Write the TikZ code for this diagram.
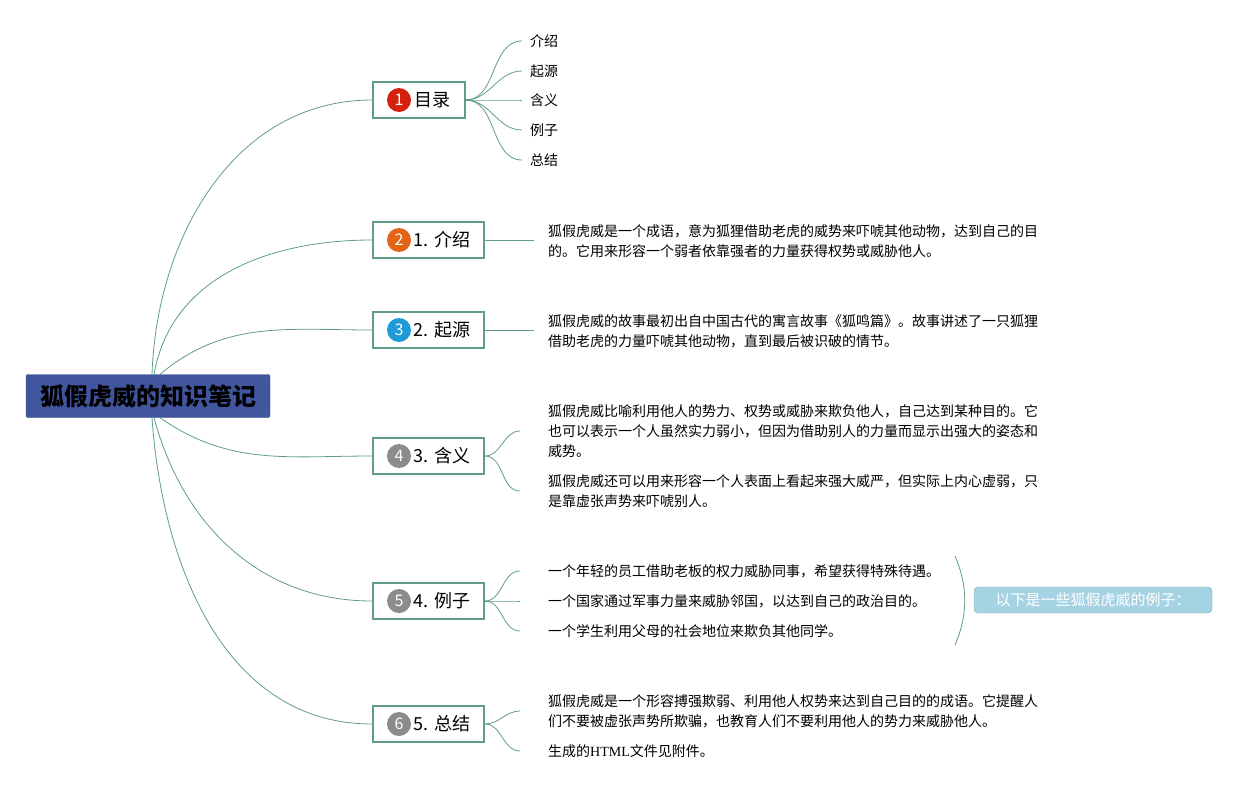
\documentclass[tikz,border=0pt]{standalone}
\usepackage{fontspec}
\setmainfont{Noto Sans CJK SC}
\newfontfamily\htmlfont{Liberation Serif}
\usetikzlibrary{positioning}

\definecolor{linecol}{RGB}{96,155,140}
\definecolor{rootblue}{RGB}{66,86,160}
\definecolor{badgered}{RGB}{212,32,12}
\definecolor{badgeorange}{RGB}{226,100,22}
\definecolor{badgeblue}{RGB}{30,155,215}
\definecolor{badgegray}{RGB}{140,140,140}
\definecolor{sumfill}{RGB}{166,211,228}
\definecolor{sumline}{RGB}{112,170,184}

\begin{document}
\begin{tikzpicture}[x=1pt,y=1pt,
  root/.style={fill=rootblue, draw=rootblue!85!black, rounded corners=2pt,
    minimum width=244pt, minimum height=43pt, font=\fontsize{24}{28}\selectfont\bfseries},
  topic/.style={anchor=west, draw=linecol, line width=1.5pt, fill=white,
    minimum height=36pt, inner xsep=14pt, font=\fontsize{18}{22}\selectfont},
  badge/.style={circle, fill=#1, text=white, minimum size=24pt, inner sep=0pt,
    font=\fontsize{16}{16}\selectfont},
  leaf/.style={anchor=west, inner xsep=8pt, font=\fontsize{14}{20}\selectfont},
  note/.style={anchor=west, align=left, inner xsep=14pt, font=\fontsize{14}{20}\selectfont},
  item/.style={note, inner xsep=28pt},
  link/.style={draw=linecol, line width=0.8pt},
  summary/.style={fill=sumfill, draw=sumline, rounded corners=4pt, text=white,
    minimum width=238pt, minimum height=26pt, font=\fontsize{15}{18}\selectfont}]

\useasboundingbox (0,0) rectangle (1258,-790);

% central topic
\node[root] (root) at (148,-396) {狐假虎威的知识笔记};

% main branches
\node[topic] (t1) at (372,-100) {\hspace*{28pt}目录};
\node[topic] (t2) at (372,-240) {\hspace*{27pt}1. 介绍};
\node[topic] (t3) at (372,-330) {\hspace*{27pt}2. 起源};
\node[topic] (t4) at (372,-456) {\hspace*{27pt}3. 含义};
\node[topic] (t5) at (372,-601) {\hspace*{27pt}4. 例子};
\node[topic] (t6) at (372,-724) {\hspace*{27pt}5. 总结};

\node[badge=badgered] at ([xshift=27pt]t1.west) {1};
\node[badge=badgeorange] at ([xshift=27pt]t2.west) {2};
\node[badge=badgeblue] at ([xshift=27pt]t3.west) {3};
\node[badge=badgegray] at ([xshift=27pt]t4.west) {4};
\node[badge=badgegray] at ([xshift=27pt]t5.west) {5};
\node[badge=badgegray] at ([xshift=27pt]t6.west) {6};

\draw[link] ([xshift=4pt]root.north) to[out=88,in=180] (t1.west);
\draw[link] ([xshift=6pt]root.north) to[out=80,in=180] (t2.west);
\draw[link] ([xshift=12pt]root.north) to[out=40,in=180] (t3.west);
\draw[link] ([xshift=12pt]root.south) to[out=-35,in=180] (t4.west);
\draw[link] ([xshift=6pt]root.south) to[out=-75,in=180] (t5.west);
\draw[link] ([xshift=4pt]root.south) to[out=-86,in=180] (t6.west);

% contents
\node[leaf] (l1) at (522,-41) {介绍};
\node[leaf] (l2) at (522,-71) {起源};
\node[leaf] (l3) at (522,-100) {含义};
\node[leaf] (l4) at (522,-130) {例子};
\node[leaf] (l5) at (522,-160) {总结};
\foreach \l in {l1,l2,l3,l4,l5}
  \draw[link] (t1.east) to[out=0,in=180] (\l.west);

% introduction and origin
\node[note] (n2) at (534,-241) {狐假虎威是一个成语，意为狐狸借助老虎的威势来吓唬其他动物，达到自己的目\\的。它用来形容一个弱者依靠强者的力量获得权势或威胁他人。};
\node[note] (n3) at (534,-331) {狐假虎威的故事最初出自中国古代的寓言故事《狐鸣篇》。故事讲述了一只狐狸\\借助老虎的力量吓唬其他动物，直到最后被识破的情节。};
\draw[link] (t2.east) -- (n2.west |- t2.east);
\draw[link] (t3.east) -- (n3.west |- t3.east);

% meaning
\node[item] (n4a) at (520,-431) {狐假虎威比喻利用他人的势力、权势或威胁来欺负他人，自己达到某种目的。它\\也可以表示一个人虽然实力弱小，但因为借助别人的力量而显示出强大的姿态和\\威势。};
\node[item] (n4b) at (520,-491) {狐假虎威还可以用来形容一个人表面上看起来强大威严，但实际上内心虚弱，只\\是靠虚张声势来吓唬别人。};
\draw[link] (t4.east) to[out=0,in=180] (n4a.west);
\draw[link] (t4.east) to[out=0,in=180] (n4b.west);

% examples
\node[item] (n5a) at (520,-571) {一个年轻的员工借助老板的权力威胁同事，希望获得特殊待遇。};
\node[item] (n5b) at (520,-601) {一个国家通过军事力量来威胁邻国，以达到自己的政治目的。};
\node[item] (n5c) at (520,-631) {一个学生利用父母的社会地位来欺负其他同学。};
\foreach \n in {n5a,n5b,n5c}
  \draw[link] (t5.east) to[out=0,in=180] (\n.west);

\coordinate (bt) at (955,-556);
\coordinate (bb) at (955,-645);
\draw[link] (bt) .. controls (968,-586) and (968,-615) .. (bb);
\node[summary] (sum) at (1093,-600) {以下是一些狐假虎威的例子：};

% summary
\node[item] (n6a) at (520,-711) {狐假虎威是一个形容搏强欺弱、利用他人权势来达到自己目的的成语。它提醒人\\们不要被虚张声势所欺骗，也教育人们不要利用他人的势力来威胁他人。};
\node[item] (n6b) at (520,-751) {生成的{\htmlfont HTML}文件见附件。};
\draw[link] (t6.east) to[out=0,in=180] (n6a.west);
\draw[link] (t6.east) to[out=0,in=180] (n6b.west);

\end{tikzpicture}
\end{document}
